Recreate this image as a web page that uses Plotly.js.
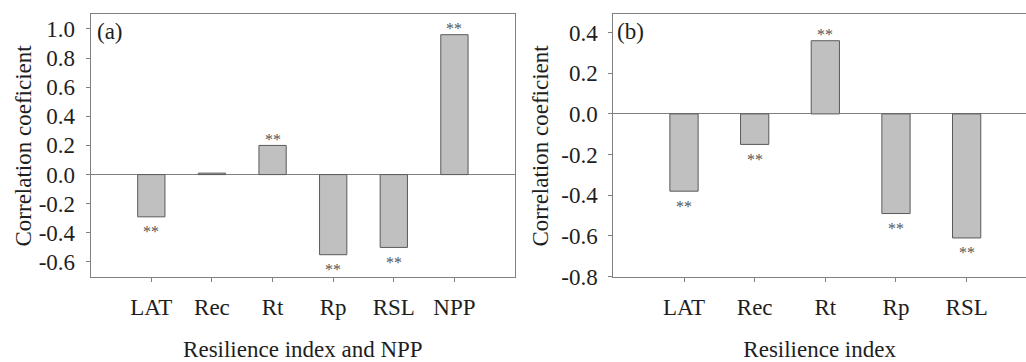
<!DOCTYPE html>
<html>
<head>
<meta charset="utf-8">
<script src="https://cdn.plot.ly/plotly-3.0.1.min.js"></script>
<style>
html, body { margin: 0; padding: 0; background: #fff; overflow: hidden; }
#chart { width: 1026px; height: 362px; }
</style>
</head>
<body>
<div id="chart"></div>
<script>
// Panel (a)
const catsA = ["LAT", "Rec", "Rt", "Rp", "RSL", "NPP"];
const valsA = [-0.29, 0.01, 0.20, -0.55, -0.50, 0.96];
const sigA  = ["**", "", "**", "**", "**", "**"];
const yTicksA = [-0.6, -0.4, -0.2, 0.0, 0.2, 0.4, 0.6, 0.8, 1.0];

// Panel (b)
const catsB = ["LAT", "Rec", "Rt", "Rp", "RSL"];
const valsB = [-0.38, -0.15, 0.36, -0.49, -0.61];
const sigB  = ["**", "**", "**", "**", "**"];
const yTicksB = [-0.8, -0.6, -0.4, -0.2, 0.0, 0.2, 0.4];

const FONT = "'Liberation Serif', 'Times New Roman', serif";
const TXT = "#1e1e1e";
const AX = "#808080";
const FS = 23;

const barStyle = { color: "#c0c0c0", line: { color: "#5a5a5a", width: 1 } };

const traces = [
  { type: "bar", x: catsA, y: valsA, width: 0.45, marker: barStyle, xaxis: "x", yaxis: "y", hoverinfo: "x+y" },
  { type: "bar", x: catsB, y: valsB, width: 0.40, marker: barStyle, xaxis: "x2", yaxis: "y2", hoverinfo: "x+y" }
];

function starAnn(cats, vals, sig, xr, yr) {
  return cats.map((c, i) => ({
    x: c, y: vals[i], xref: xr, yref: yr,
    text: sig[i], showarrow: false,
    font: { family: FONT, size: 16, color: "#555" },
    yanchor: "middle",
    yshift: vals[i] >= 0 ? 6 : -15
  })).filter(a => a.text);
}

function yAxis(ticks, range, anchor) {
  return {
    range: range, anchor: anchor,
    domain: [0.236, 0.9605],
    tickmode: "array", tickvals: ticks, ticktext: ticks.map(v => v.toFixed(1)),
    ticks: "outside", ticklen: 4, tickcolor: AX, tickwidth: 1,
    ticklabelstandoff: 6,
    showgrid: false, zeroline: true, zerolinecolor: AX, zerolinewidth: 1,
    showline: true, linecolor: AX, linewidth: 1,
    tickfont: { family: FONT, size: FS, color: TXT }
  };
}

function xAxis(range, domain, anchor, title, mirror) {
  return {
    range: range, domain: domain, anchor: anchor,
    ticks: "outside", ticklen: 4, tickcolor: AX, tickwidth: 1,
    ticklabelstandoff: 6,
    showgrid: false, zeroline: false,
    showline: true, linecolor: AX, linewidth: 1, mirror: mirror,
    tickfont: { family: FONT, size: FS, color: TXT },
    title: { text: title, font: { family: FONT, size: FS, color: TXT }, standoff: 32 }
  };
}

const yA = yAxis(yTicksA, [-0.7, 1.1], "x");
yA.mirror = true;
const yB = yAxis(yTicksB, [-0.8, 0.49], "x2");
yB.mirror = false;

const yTitle = (xpx) => ({
  text: "Correlation coeficient", xref: "paper", yref: "paper",
  x: xpx / 1026, y: 1 - 145.5 / 362, xanchor: "center", yanchor: "middle",
  textangle: -90, showarrow: false, font: { family: FONT, size: FS, color: TXT }
});

const layout = {
  width: 1026, height: 362,
  margin: { l: 0, r: 0, t: 0, b: 0 },
  paper_bgcolor: "#fff", plot_bgcolor: "#fff",
  showlegend: false,
  font: { family: FONT, color: TXT },
  xaxis: xAxis([-1, 6], [0.0884, 0.502], "y", "Resilience index and NPP", true),
  yaxis: yA,
  xaxis2: xAxis([-1, 4.84], [0.5978, 1], "y2", "Resilience index", true),
  yaxis2: yB,
  annotations: [
    ...starAnn(catsA, valsA, sigA, "x", "y"),
    ...starAnn(catsB, valsB, sigB, "x2", "y2"),
    yTitle(23),
    yTitle(540),
    { text: "(a)", xref: "x domain", yref: "y domain", x: 0.01, y: 0.99, xanchor: "left", yanchor: "top",
      showarrow: false, font: { family: FONT, size: FS, color: TXT } },
    { text: "(b)", xref: "x2 domain", yref: "y2 domain", x: 0.005, y: 0.99, xanchor: "left", yanchor: "top",
      showarrow: false, font: { family: FONT, size: FS, color: TXT } }
  ]
};

Plotly.newPlot("chart", traces, layout, { displayModeBar: false, staticPlot: true });
</script>
</body>
</html>
